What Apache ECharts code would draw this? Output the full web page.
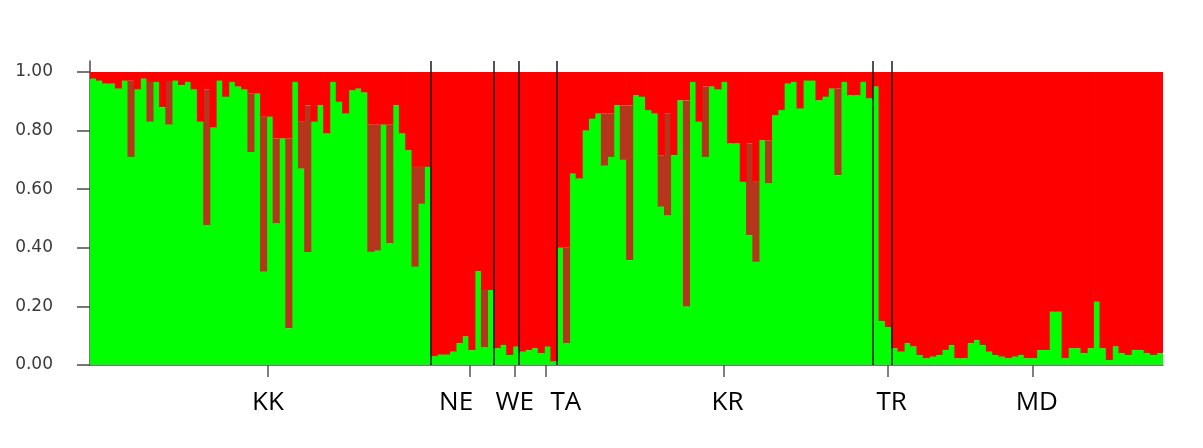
<!DOCTYPE html>
<html>
<head>
<meta charset="utf-8">
<script src="https://cdn.jsdelivr.net/npm/echarts@6/dist/echarts.min.js"></script>
<style>html,body{margin:0;padding:0;background:#fff}#chart{width:1203px;height:448px}</style>
</head>
<body>
<div id="chart"></div>
<script>
// Population groups (in plot order) and the green-cluster membership (Q) of each individual
const groups = ['KK', 'NE', 'WE', 'TA', 'KR', 'TR', 'MD'];
const greenKK = [0.977,0.97,0.96,0.96,0.943,0.97,0.71,0.94,0.977,0.83,
  0.966,0.88,0.82,0.97,0.955,0.966,0.94,0.83,0.477,0.81,
  0.97,0.915,0.966,0.95,0.94,0.727,0.926,0.318,0.847,0.483,
  0.773,0.125,0.966,0.67,0.386,0.83,0.886,0.79,0.966,0.898,
  0.858,0.937,0.943,0.93,0.386,0.39,0.82,0.415,0.886,0.79,
  0.733,0.335,0.55,0.676];
const greenNE = [0.03,0.035,0.035,0.045,0.074,0.097,0.05,0.32,0.06,0.256];
const greenWE = [0.057,0.068,0.034,0.062];
const greenTA = [0.045,0.05,0.057,0.04,0.062,0.012];
const greenKR = [0.40,0.074,0.653,0.636,0.80,0.84,0.858,0.68,0.71,0.886,
  0.70,0.358,0.92,0.915,0.87,0.858,0.54,0.51,0.716,0.903,
  0.20,0.966,0.83,0.71,0.95,0.94,0.966,0.756,0.756,0.625,
  0.443,0.352,0.767,0.62,0.852,0.87,0.96,0.966,0.875,0.97,
  0.97,0.903,0.915,0.943,0.648,0.966,0.92,0.92,0.966,0.91];
const greenTR = [0.95,0.15,0.13];
const greenMD = [0.057,0.045,0.074,0.063,0.034,0.023,0.028,0.034,0.051,0.068,
  0.023,0.023,0.074,0.085,0.068,0.045,0.034,0.028,0.023,0.028,
  0.034,0.023,0.023,0.051,0.051,0.182,0.182,0.023,0.057,0.057,
  0.04,0.057,0.216,0.057,0.017,0.063,0.04,0.034,0.051,0.051,
  0.04,0.034,0.04];
const yTicks = [0, 0.2, 0.4, 0.6, 0.8, 1.0];
const yTickLabels = ['0.00','0.20','0.40','0.60','0.80','1.00'];

// ---- build from the arrays ----
const groupData = [greenKK, greenNE, greenWE, greenTA, greenKR, greenTR, greenMD];
const categories = [];
const green = [];
const boundaries = [];
let n = 0;
groupData.forEach((arr, gi) => {
  arr.forEach((v, k) => { categories.push(groups[gi] + (k + 1)); green.push(v); });
  n += arr.length;
  if (gi < groupData.length - 1) boundaries.push(n);
});
const g = i => (i < 0 || i >= green.length) ? 0 : green[i];
// red part split into the narrow "dip" below neighbouring bars (drawn darker) and the rest
const redDip = green.map((v, i) => {
  const env = Math.min(Math.max(g(i - 1), g(i - 2)), Math.max(g(i + 1), g(i + 2)));
  return env - v > 0.12 ? +(env - v).toFixed(3) : 0;
});
const redRest = green.map((v, i) => +(1 - v - redDip[i]).toFixed(3));

// layout: where the group ticks and names sit (in individual units along the bar axis)
const tickPos = [28.2, 60.2, 67.3, 72.2, 100.4, 126.4, 149.4];
const labelPos = [28.2, 58.0, 67.3, 75.4, 101.0, 127.0, 150.0];

const barBase = { type: 'bar', stack: 'q', barWidth: '112%', barCategoryGap: '0%', silent: true };
const chart = echarts.init(document.getElementById('chart'));
chart.setOption({
  animation: false,
  grid: { left: 90, right: 40, top: 61, bottom: 83 },
  xAxis: [
    {
      type: 'category', data: categories, boundaryGap: true,
      axisLine: { show: true, lineStyle: { color: '#4a4a4a', width: 1.5 } },
      axisTick: { show: false }, axisLabel: { show: false }, splitLine: { show: false }
    },
    {
      type: 'value', min: 0, max: n, position: 'bottom',
      axisLine: { show: false },
      splitLine: { show: false },
      axisTick: { show: true, inside: false, length: 12, customValues: tickPos,
        lineStyle: { color: '#555', width: 1.5 } },
      axisLabel: { show: true, customValues: labelPos, margin: 25,
        fontFamily: 'Open Sans', fontSize: 26, color: '#000',
        formatter: v => { const i = labelPos.indexOf(v); return i >= 0 ? groups[i] : ''; } }
    }
  ],
  yAxis: {
    type: 'value', min: 0, max: 1.0375,
    axisLine: { show: true, lineStyle: { color: '#4a4a4a', width: 1.5 } },
    axisTick: { show: true, length: 13, customValues: yTicks, lineStyle: { color: '#4a4a4a', width: 1.5 } },
    axisLabel: { margin: 37, customValues: yTicks, fontFamily: 'DejaVu Sans', fontSize: 17, color: '#3a3a3a',
      formatter: v => { const i = yTicks.indexOf(v); return i >= 0 ? yTickLabels[i] : ''; } },
    splitLine: { show: false }
  },
  series: [
    Object.assign({ name: 'Cluster 1', data: green, itemStyle: { color: '#00ff00' } }, barBase),
    Object.assign({ name: 'Cluster 2 (dip)', data: redDip, itemStyle: { color: '#b5361c' } }, barBase),
    Object.assign({ name: 'Cluster 2', data: redRest, itemStyle: { color: '#ff0000' } }, barBase),
    { type: 'line', xAxisIndex: 1, data: [], silent: true,
      markLine: { silent: true, symbol: 'none', label: { show: false },
        lineStyle: { color: '#1a1a1a', width: 1.5, type: 'solid' },
        data: boundaries.map(b => ({ xAxis: b })) } }
  ]
});
</script>
</body>
</html>
